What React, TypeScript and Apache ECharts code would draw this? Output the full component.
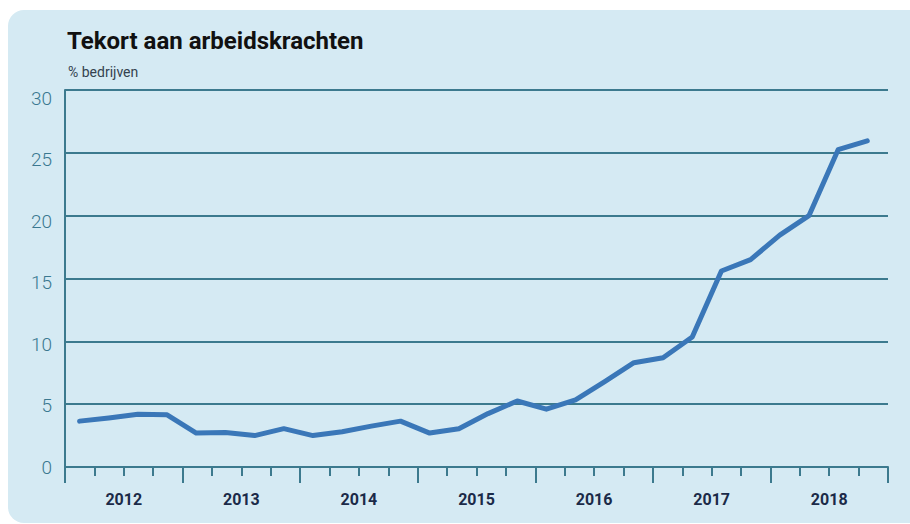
import React, { useEffect, useRef } from "react";
import * as echarts from "echarts";

const years = ["2012", "2013", "2014", "2015", "2016", "2017", "2018"];
const quarters = ["Q1", "Q2", "Q3", "Q4"];
const shortage = [
  3.65, 3.9, 4.2, 4.15, 2.7, 2.75, 2.5, 3.05, 2.5, 2.8, 3.25, 3.65, 2.7, 3.05,
  4.25, 5.25, 4.6, 5.35, 6.8, 8.3, 8.7, 10.35, 15.6, 16.5, 18.45, 20.0, 25.25,
  25.95,
];
const yTicks = [0, 5, 10, 15, 20, 25, 30];

const TEAL = "#3c7a8e";

export default function App() {
  const ref = useRef<HTMLDivElement>(null);

  useEffect(() => {
    if (!ref.current) return;
    const chart = echarts.init(ref.current, undefined, { renderer: "svg" });
    const quarterCats = years.flatMap((y) => quarters.map((q) => `${y} ${q}`));
    chart.setOption({
      animation: false,
      backgroundColor: "transparent",
      textStyle: { fontFamily: "Roboto" },
      title: [
        {
          text: "Tekort aan arbeidskrachten",
          left: 62,
          top: 24,
          textStyle: {
            fontFamily: "Roboto",
            fontWeight: "bold",
            fontSize: 24,
            color: "#111111",
          },
        },
        {
          text: "% bedrijven",
          left: 63,
          top: 60,
          textStyle: {
            fontFamily: "Roboto",
            fontWeight: "normal",
            fontSize: 14,
            color: "#34424f",
          },
        },
      ],
      grid: { left: 65, right: 22, top: 90, bottom: 57, containLabel: false },
      xAxis: [
        {
          type: "category",
          data: quarterCats,
          boundaryGap: true,
          axisLine: { show: true, onZero: false, lineStyle: { color: TEAL, width: 2 } },
          axisTick: {
            show: true,
            interval: 0,
            length: 9,
            lineStyle: { color: TEAL, width: 2 },
          },
          axisLabel: { show: false },
          splitLine: { show: false },
        },
        {
          type: "category",
          data: years,
          boundaryGap: true,
          position: "bottom",
          axisLine: { show: false, onZero: false },
          axisTick: {
            show: true,
            interval: 0,
            length: 16,
            lineStyle: { color: TEAL, width: 2 },
          },
          axisLabel: {
            show: true,
            interval: 0,
            margin: 24,
            fontFamily: "Roboto",
            fontWeight: "bold",
            fontSize: 16,
            color: "#1b2a48",
          },
          splitLine: { show: false },
        },
        {
          type: "value",
          min: -0.5,
          max: 27.71,
          show: false,
          axisLine: { show: false, onZero: false },
        },
      ],
      yAxis: [
        {
          type: "value",
          min: 0,
          max: 30,
          interval: 5,
          axisLine: { show: true, onZero: false, lineStyle: { color: TEAL, width: 2 } },
          axisTick: { show: false },
          axisLabel: { show: false },
          splitLine: { show: true, lineStyle: { color: TEAL, width: 2 } },
        },
        {
          type: "value",
          min: 0,
          max: 30.67,
          interval: 5,
          position: "left",
          axisLine: { show: false, onZero: false },
          axisTick: { show: false },
          splitLine: { show: false },
          axisLabel: {
            show: true,
            margin: 13,
            fontFamily: "Roboto",
            fontWeight: 300,
            fontSize: 19,
            color: "#3a7890",
            formatter: (v: number) =>
              yTicks.indexOf(Math.round(v * 100) / 100) >= 0 ? String(v) : "",
          },
        },
      ],
      series: [
        {
          type: "line",
          xAxisIndex: 2,
          yAxisIndex: 0,
          data: shortage.map((v, i) => [i, v]),
          symbol: "none",
          lineStyle: { color: "#3a77b8", width: 5, cap: "round", join: "round" },
          itemStyle: { color: "#3a77b8" },
        },
      ],
    });
    return () => chart.dispose();
  }, []);

  return (
    <div
      style={{
        position: "absolute",
        left: 0,
        top: 0,
        width: 910,
        height: 524,
        background: "#ffffff",
        overflow: "hidden",
      }}
    >
      <div
        style={{
          position: "absolute",
          left: 8,
          top: 10,
          width: 920,
          height: 513,
          borderRadius: 16,
          background: "#d5eaf3",
        }}
      />
      <div
        ref={ref}
        style={{ position: "absolute", left: 0, top: 0, width: 910, height: 524 }}
      />
    </div>
  );
}
